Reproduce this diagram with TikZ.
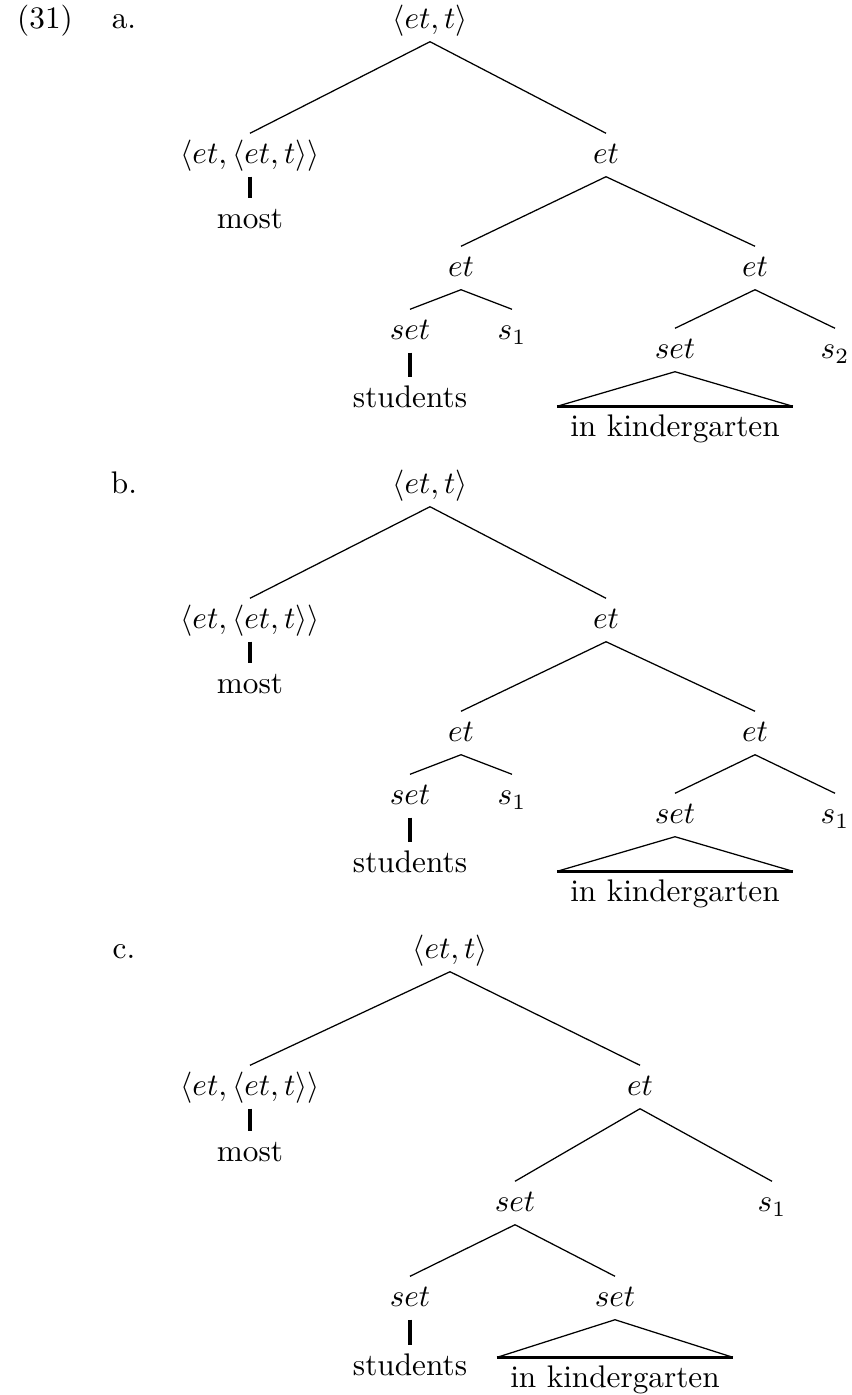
\documentclass[tikz,border=0pt]{standalone}
\usepackage{amsmath}
\usepackage{tikz}
\usetikzlibrary{positioning}
\tikzset{every picture/.style={line width=0.4pt},
  lab/.style={inner sep=2pt,text height=7.5pt,text depth=2pt},
  roof/.style={lab,inner xsep=4pt},
  bar/.style={line width=1pt},
  roofbase/.style={line width=0.8pt}}
\begin{document}
\begin{tikzpicture}[x=0.32pt,y=-0.32pt]
\useasboundingbox (0,0) rectangle (851,1395);
\node (ex) [lab] at (45,20) {(31)};

\foreach \off/\tr/\sub in {0/a/2,465/b/1} {
\begin{scope}[shift={(0,\off)}]
\node (\tr-l) [lab] at (124,20) {\tr.};
\node (\tr-root) [lab] at (430,20) {$\langle et,t\rangle$};
\node (\tr-q) [lab] at (250,155) {$\langle et,\langle et,t\rangle\rangle$};
\node (\tr-most) [lab] at (250,220) {most};
\node (\tr-et) [lab] at (606,155) {$et$};
\node (\tr-etl) [lab] at (461,268) {$et$};
\node (\tr-etr) [lab] at (755,268) {$et$};
\node (\tr-setl) [lab] at (410,331) {$set$};
\node (\tr-sl) [lab] at (512,331) {$s_1$};
\node (\tr-stud) [lab] at (410,399) {students};
\node (\tr-setr) [lab] at (675,350) {$set$};
\node (\tr-sr) [lab] at (835,350) {$s_\sub$};
\node (\tr-kg) [roof] at (675,428) {in kindergarten};

\draw (\tr-root.south) -- (\tr-q.north);
\draw (\tr-root.south) -- (\tr-et.north);
\draw[bar] (\tr-q.south) -- (\tr-most.north);
\draw (\tr-et.south) -- (\tr-etl.north);
\draw (\tr-et.south) -- (\tr-etr.north);
\draw (\tr-etl.south) -- (\tr-setl.north);
\draw (\tr-etl.south) -- (\tr-sl.north);
\draw[bar] (\tr-setl.south) -- (\tr-stud.north);
\draw (\tr-etr.south) -- (\tr-setr.north);
\draw (\tr-etr.south) -- (\tr-sr.north);
\draw (\tr-setr.south) -- (\tr-kg.north west);
\draw (\tr-setr.south) -- (\tr-kg.north east);
\draw[roofbase] (\tr-kg.north west) -- (\tr-kg.north east);
\end{scope}
}

\node (c-l) [lab] at (124,950) {c.};
\node (c-root) [lab] at (450,950) {$\langle et,t\rangle$};
\node (c-q) [lab] at (250,1087) {$\langle et,\langle et,t\rangle\rangle$};
\node (c-most) [lab] at (250,1153) {most};
\node (c-et) [lab] at (640,1087) {$et$};
\node (c-set) [lab] at (515,1203) {$set$};
\node (c-s) [lab] at (772,1203) {$s_1$};
\node (c-setl) [lab] at (410,1298) {$set$};
\node (c-setr) [lab] at (615,1298) {$set$};
\node (c-stud) [lab] at (410,1367) {students};
\node (c-kg) [roof] at (615,1379) {in kindergarten};

\draw (c-root.south) -- (c-q.north);
\draw (c-root.south) -- (c-et.north);
\draw[bar] (c-q.south) -- (c-most.north);
\draw (c-et.south) -- (c-set.north);
\draw (c-et.south) -- (c-s.north);
\draw (c-set.south) -- (c-setl.north);
\draw (c-set.south) -- (c-setr.north);
\draw[bar] (c-setl.south) -- (c-stud.north);
\draw (c-setr.south) -- (c-kg.north west);
\draw (c-setr.south) -- (c-kg.north east);
\draw[roofbase] (c-kg.north west) -- (c-kg.north east);
\end{tikzpicture}
\end{document}
